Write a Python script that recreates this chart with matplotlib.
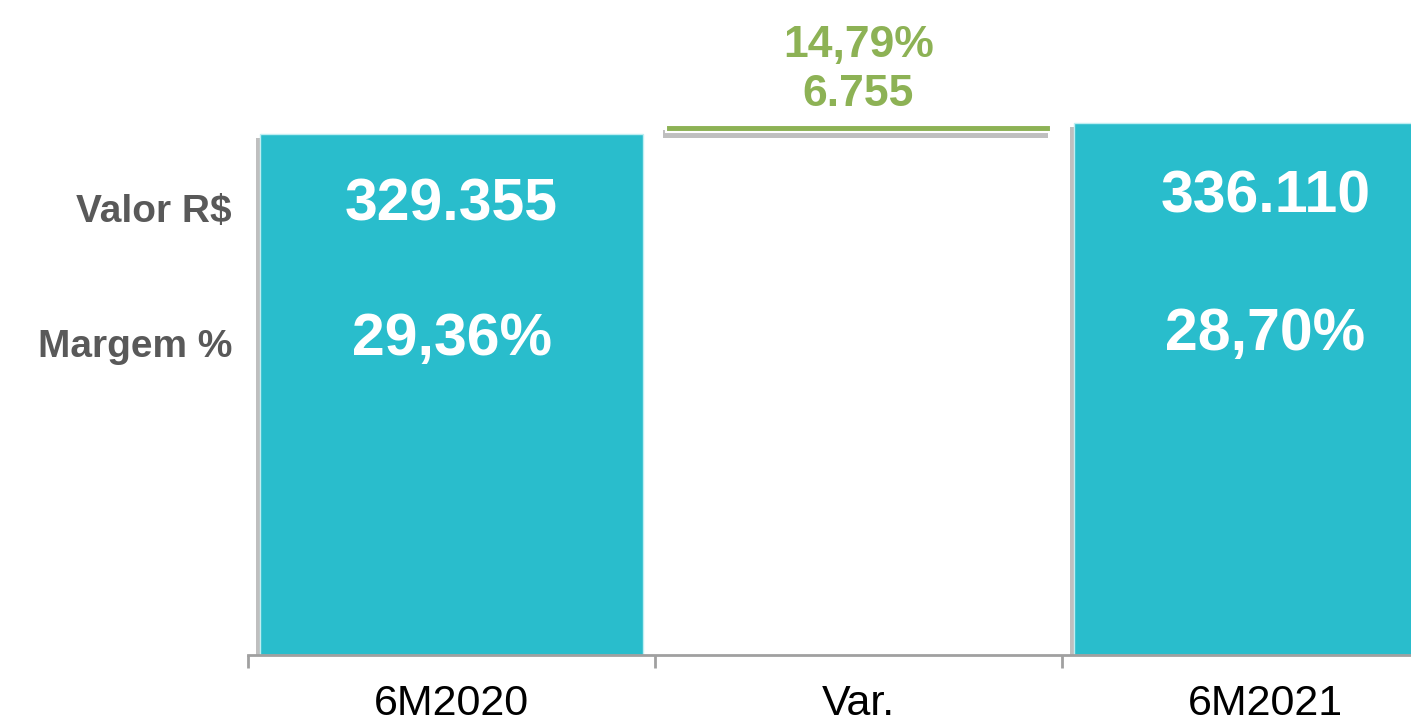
import numpy as np
import matplotlib.pyplot as plt
import matplotlib.patheffects as pe
from matplotlib.transforms import blended_transform_factory

categories = ['6M2020', 'Var.', '6M2021']
valores = [329355, 336110]
valores_txt = ['329.355', '336.110']
margens_txt = ['29,36%', '28,70%']
var_valor = 6755
var_txt = ['14,79%', '6.755']
row_labels = ['Valor R$', 'Margem %']

teal = '#29BDCC'
green = '#8DB255'
gray = '#595959'

plt.rcParams['font.family'] = ['Liberation Sans', 'DejaVu Sans']

fig = plt.figure(figsize=(14.11, 7.25), dpi=100)
ax = fig.add_axes([248 / 1411, 70 / 725, 1221 / 1411, 655 / 725])

shadow = [pe.SimplePatchShadow(offset=(-3, -3), shadow_rgbFace='#000000', alpha=0.25), pe.Normal()]

bars = ax.bar([0, 2], valores, width=0.94, color=teal, edgecolor='#bfeef2', linewidth=1)
for b in bars:
    b.set_path_effects(shadow)
vb = ax.bar([1], [var_valor * 0.7], bottom=[valores[0] + var_valor * 0.15], width=0.945,
            color=green, edgecolor='white', linewidth=1.5)
vb[0].set_path_effects([pe.SimplePatchShadow(offset=(-2, -4), shadow_rgbFace='#000000', alpha=0.25), pe.Normal()])

ax.set_xlim(-0.5, 2.5)
ax.set_ylim(0, valores[1] * 655 / 532)

trans = blended_transform_factory(ax.transData, ax.transAxes)
val_y = [0.687, 0.699]
marg_y = [0.481, 0.489]
for i, x in enumerate([0, 2]):
    ax.text(x, val_y[i], valores_txt[i], transform=trans, ha='center', va='center',
            color='white', fontsize=42.5, fontweight='bold')
    ax.text(x, marg_y[i], margens_txt[i], transform=trans, ha='center', va='center',
            color='white', fontsize=42.5, fontweight='bold')

ax.text(1, 0.931, var_txt[0], transform=trans, ha='center', va='center',
        color=green, fontsize=32, fontweight='bold')
ax.text(1, 0.855, var_txt[1], transform=trans, ha='center', va='center',
        color=green, fontsize=32, fontweight='bold')

for lab, y in zip(row_labels, [0.676, 0.470]):
    fig.text(232 / 1411, 70 / 725 + y * 655 / 725, lab, ha='right', va='center',
             color=gray, fontsize=28, fontweight='bold')

for s in ['top', 'right', 'left']:
    ax.spines[s].set_visible(False)
ax.spines['bottom'].set_color('#A0A0A0')
ax.spines['bottom'].set_linewidth(2)
ax.set_yticks([])
ax.set_xticks(range(len(categories)), labels=categories)
ax.set_xticks([-0.5, 0.5, 1.5, 2.5], minor=True)
ax.tick_params(axis='x', which='major', length=0, pad=21, labelsize=31, labelcolor='black')
ax.tick_params(axis='x', which='minor', length=9, width=2, color='#A0A0A0', direction='out')

fig.savefig('out.png', dpi=100)
